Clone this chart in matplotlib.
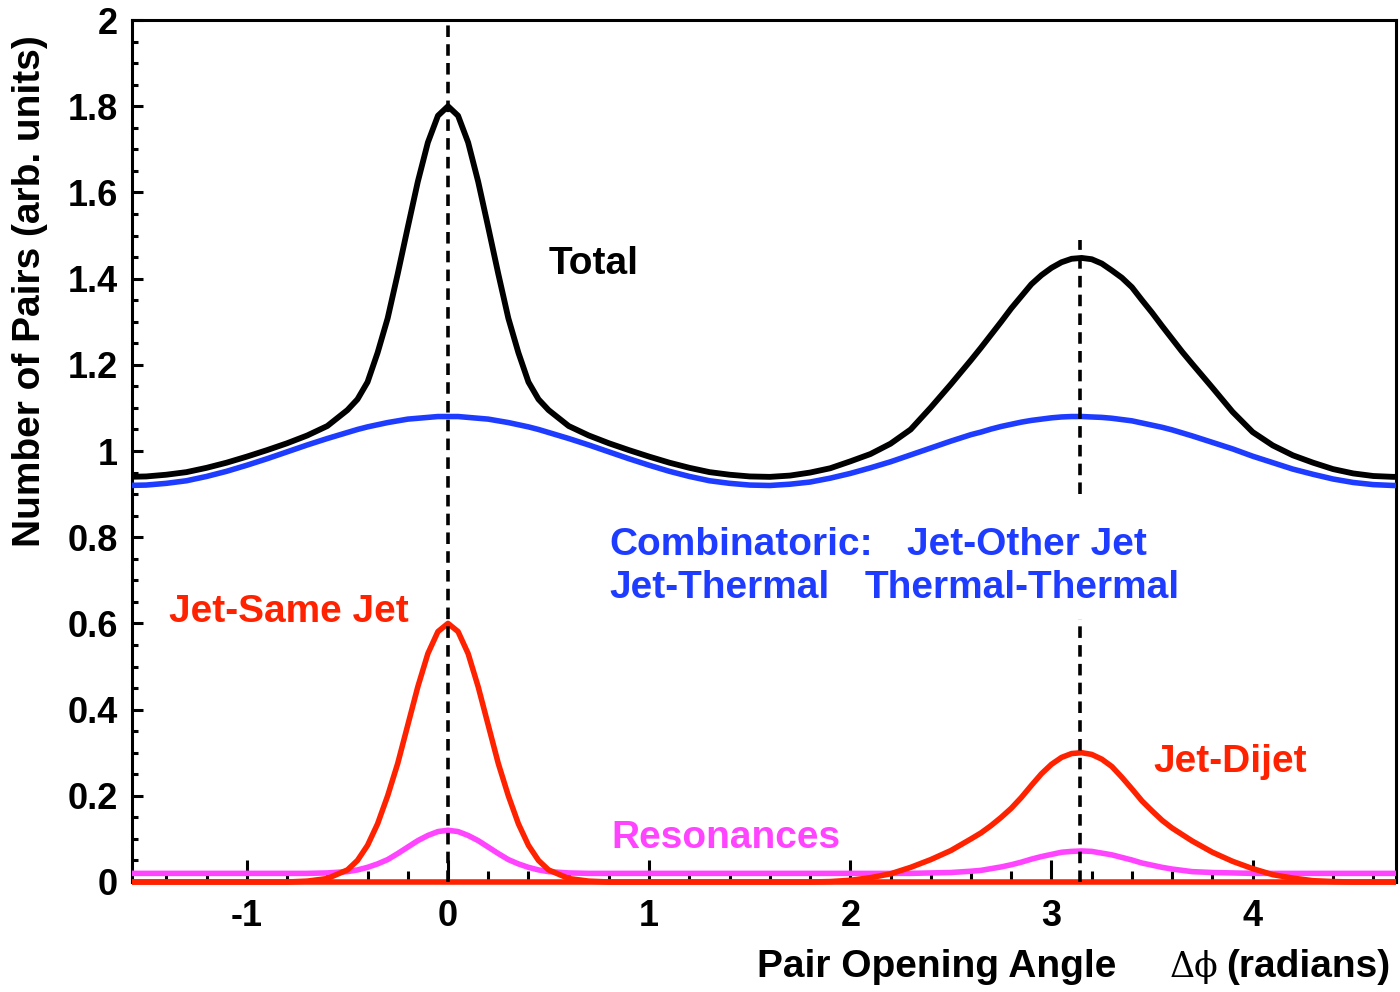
import numpy as np
import matplotlib
matplotlib.use("Agg")
import matplotlib.pyplot as plt
from matplotlib.ticker import MultipleLocator, FuncFormatter
from matplotlib.transforms import Bbox, TransformedBbox

plt.rcParams['font.family'] = ['Liberation Sans', 'DejaVu Sans']
plt.rcParams['font.weight'] = 'bold'

# pair opening angle samples (radians)
phi = [-1.6, -1.5, -1.4, -1.3, -1.2, -1.1, -1.0, -0.9, -0.8, -0.7, -0.6, -0.5,
       -0.45, -0.4, -0.35, -0.3, -0.25, -0.2, -0.15, -0.1, -0.05, 0.0,
       0.05, 0.1, 0.15, 0.2, 0.25, 0.3, 0.35, 0.4, 0.45,
       0.5, 0.6, 0.7, 0.8, 0.9, 1.0, 1.1, 1.2, 1.3, 1.4, 1.5, 1.6, 1.7, 1.8,
       1.9, 2.0, 2.1, 2.2, 2.3, 2.4, 2.5, 2.6,
       2.65, 2.7, 2.75, 2.8, 2.85, 2.9, 2.95, 3.0, 3.05, 3.1, 3.15,
       3.2, 3.25, 3.3, 3.35, 3.4, 3.45, 3.5, 3.55, 3.6, 3.65, 3.7,
       3.8, 3.9, 4.0, 4.1, 4.2, 4.3, 4.4, 4.5, 4.6, 4.7, 4.8]

combinatoric = [0.920, 0.921, 0.925, 0.931, 0.941, 0.953, 0.967, 0.982, 0.998, 1.014, 1.029, 1.043,
                1.050, 1.056, 1.061, 1.066, 1.070, 1.074, 1.076, 1.078, 1.080, 1.080,
                1.080, 1.078, 1.076, 1.074, 1.070, 1.066, 1.061, 1.056, 1.050,
                1.043, 1.029, 1.014, 0.998, 0.982, 0.967, 0.953, 0.941, 0.931, 0.925, 0.921, 0.920, 0.923, 0.928,
                0.937, 0.948, 0.961, 0.975, 0.991, 1.007, 1.023, 1.038,
                1.044, 1.051, 1.057, 1.062, 1.067, 1.071, 1.074, 1.077, 1.079, 1.080, 1.080,
                1.079, 1.078, 1.076, 1.073, 1.070, 1.065, 1.060, 1.055, 1.049, 1.042, 1.035,
                1.020, 1.005, 0.988, 0.973, 0.958, 0.946, 0.935, 0.927, 0.922, 0.920, 0.921]

total = [0.940, 0.941, 0.945, 0.951, 0.961, 0.973, 0.987, 1.002, 1.018, 1.036, 1.058, 1.095,
         1.120, 1.160, 1.228, 1.308, 1.411, 1.519, 1.625, 1.716, 1.778, 1.800,
         1.778, 1.716, 1.625, 1.519, 1.411, 1.308, 1.228, 1.160, 1.120,
         1.095, 1.058, 1.036, 1.018, 1.002, 0.987, 0.973, 0.961, 0.951, 0.945, 0.941, 0.940, 0.943, 0.950,
         0.960, 0.976, 0.993, 1.017, 1.050, 1.101, 1.155, 1.211,
         1.240, 1.270, 1.300, 1.331, 1.359, 1.387, 1.408, 1.425, 1.438, 1.446, 1.448,
         1.445, 1.435, 1.419, 1.402, 1.380, 1.350, 1.321, 1.290, 1.260, 1.230, 1.202,
         1.147, 1.091, 1.044, 1.013, 0.990, 0.973, 0.958, 0.948, 0.942, 0.940, 0.941]

jet_same = [0.0, 0.0, 0.0, 0.0, 0.0, 0.0, 0.0, 0.0, 0.0, 0.002, 0.008, 0.028,
            0.050, 0.085, 0.135, 0.200, 0.275, 0.364, 0.453, 0.530, 0.581, 0.600,
            0.581, 0.530, 0.453, 0.364, 0.275, 0.200, 0.135, 0.085, 0.050,
            0.028, 0.008, 0.002, 0.0, 0.0, 0.0, 0.0, 0.0, 0.0, 0.0, 0.0, 0.0, 0.0, 0.0,
            0.0, 0.0, 0.0, 0.0, 0.0, 0.0, 0.0, 0.0,
            0.0, 0.0, 0.0, 0.0, 0.0, 0.0, 0.0, 0.0, 0.0, 0.0, 0.0,
            0.0, 0.0, 0.0, 0.0, 0.0, 0.0, 0.0, 0.0, 0.0, 0.0, 0.0,
            0.0, 0.0, 0.0, 0.0, 0.0, 0.0, 0.0, 0.0, 0.0, 0.0, 0.0]

jet_dijet = [0.0, 0.0, 0.0, 0.0, 0.0, 0.0, 0.0, 0.0, 0.0, 0.0, 0.0, 0.0,
             0.0, 0.0, 0.0, 0.0, 0.0, 0.0, 0.0, 0.0, 0.0, 0.0,
             0.0, 0.0, 0.0, 0.0, 0.0, 0.0, 0.0, 0.0, 0.0,
             0.0, 0.0, 0.0, 0.0, 0.0, 0.0, 0.0, 0.0, 0.0, 0.0, 0.0, 0.0, 0.0, 0.0,
             0.001, 0.004, 0.010, 0.019, 0.034, 0.052, 0.073, 0.100,
             0.114, 0.131, 0.150, 0.171, 0.196, 0.224, 0.251, 0.273, 0.289, 0.298, 0.300,
             0.296, 0.285, 0.268, 0.243, 0.216, 0.188, 0.165, 0.143, 0.125, 0.110, 0.095,
             0.069, 0.048, 0.031, 0.017, 0.009, 0.003, 0.001, 0.0, 0.0, 0.0, 0.0]

resonances = [0.020, 0.020, 0.020, 0.020, 0.020, 0.020, 0.020, 0.020, 0.020, 0.020, 0.021, 0.024,
              0.028, 0.034, 0.042, 0.052, 0.066, 0.081, 0.096, 0.108, 0.117, 0.120,
              0.117, 0.108, 0.096, 0.081, 0.066, 0.052, 0.042, 0.034, 0.028,
              0.024, 0.021, 0.020, 0.020, 0.020, 0.020, 0.020, 0.020, 0.020, 0.020, 0.020, 0.020, 0.020, 0.020,
              0.020, 0.020, 0.020, 0.020, 0.020, 0.021, 0.022, 0.025,
              0.027, 0.031, 0.035, 0.040, 0.046, 0.053, 0.059, 0.064, 0.069, 0.071, 0.072,
              0.071, 0.067, 0.063, 0.057, 0.051, 0.044, 0.039, 0.034, 0.030, 0.027, 0.024,
              0.022, 0.021, 0.020, 0.020, 0.020, 0.020, 0.020, 0.020, 0.020, 0.020, 0.020]

# dashed markers at the near side and away side (away side is broken by the text)
dash_x = [0.0, np.pi, np.pi]
dash_lo = [0.0, 0.0, 0.9]
dash_hi = [2.0, 0.61, 1.49]

blue = '#1e3cff'
red = '#ff2200'
magenta = '#ff44ff'

fig = plt.figure(figsize=(14, 9.92), dpi=100)
ax = fig.add_axes([0.0943, 0.1109, 0.9028, 0.8689])

ax.set_xlim(-np.pi / 2, 3 * np.pi / 2)
ax.set_ylim(0, 2)

ax.plot(phi, combinatoric, color=blue, lw=4, zorder=3)
ax.plot(phi, total, color='black', lw=4.2, zorder=3)
ax.plot(phi, resonances, color=magenta, lw=4, zorder=3)
l1, = ax.plot(phi, jet_same, color=red, lw=4, zorder=3)
l2, = ax.plot(phi, jet_dijet, color=red, lw=4, zorder=3)
# let the red baseline sit on top of the x axis line
clip = TransformedBbox(Bbox([[-np.pi / 2, -0.02], [3 * np.pi / 2, 2]]), ax.transData)
for ln in (l1, l2):
    ln.set_clip_box(clip)

ax.vlines(dash_x, dash_lo, dash_hi, colors='black', linestyles=(0, (3.2, 2.0)),
          lw=2.6, zorder=3.5)

for s in ax.spines.values():
    s.set_linewidth(2.2)

ax.xaxis.set_major_locator(MultipleLocator(1))
ax.xaxis.set_minor_locator(MultipleLocator(0.2))
ax.yaxis.set_major_locator(MultipleLocator(0.2))
ax.yaxis.set_minor_locator(MultipleLocator(0.05))
ax.yaxis.set_major_formatter(FuncFormatter(lambda v, p: '%g' % round(v, 2)))
ax.xaxis.set_major_formatter(FuncFormatter(lambda v, p: '%g' % round(v, 2)))

ax.tick_params(axis='x', which='major', direction='in', length=16, width=2.2,
               labelsize=26, pad=12, top=False)
ax.tick_params(axis='x', which='minor', direction='in', length=8, width=2.2, top=False)
ax.tick_params(axis='y', which='major', direction='in', length=8, width=2.2,
               labelsize=26, pad=10, right=False)
ax.tick_params(axis='y', which='minor', direction='in', length=4, width=2.2, right=False)

fs = 28
ax.text(0.5, 1.434, 'Total', fontsize=fs, color='black', ha='left', va='center')
ax.text(-1.386, 0.626, 'Jet-Same Jet', fontsize=fs, color=red, ha='left', va='center')
ax.text(3.505, 0.278, 'Jet-Dijet', fontsize=fs, color=red, ha='left', va='center')
ax.text(0.812, 0.102, 'Resonances', fontsize=fs, color=magenta, ha='left', va='center')
ax.text(0.802, 0.782, 'Combinatoric:', fontsize=fs, color=blue, ha='left', va='center')
ax.text(2.282, 0.782, 'Jet-Other Jet', fontsize=fs, color=blue, ha='left', va='center')
ax.text(0.802, 0.682, 'Jet-Thermal', fontsize=fs, color=blue, ha='left', va='center')
ax.text(2.069, 0.682, 'Thermal-Thermal', fontsize=fs, color=blue, ha='left', va='center')

fig.text(0.0214, 1 - 35 / 992, 'Number of Pairs (arb. units)', fontsize=fs,
         rotation=90, ha='center', va='top')
fig.text(757 / 1400, 1 - 967 / 992, 'Pair Opening Angle', fontsize=fs,
         ha='left', va='center')
fig.text(1170 / 1400, 1 - 967 / 992, '\u0394\u03d5', fontsize=25, family='DejaVu Serif',
         weight='normal', ha='left', va='center')
fig.text(1390 / 1400, 1 - 967 / 992, '(radians)', fontsize=fs, ha='right', va='center')

fig.savefig('out.png', dpi=100)
